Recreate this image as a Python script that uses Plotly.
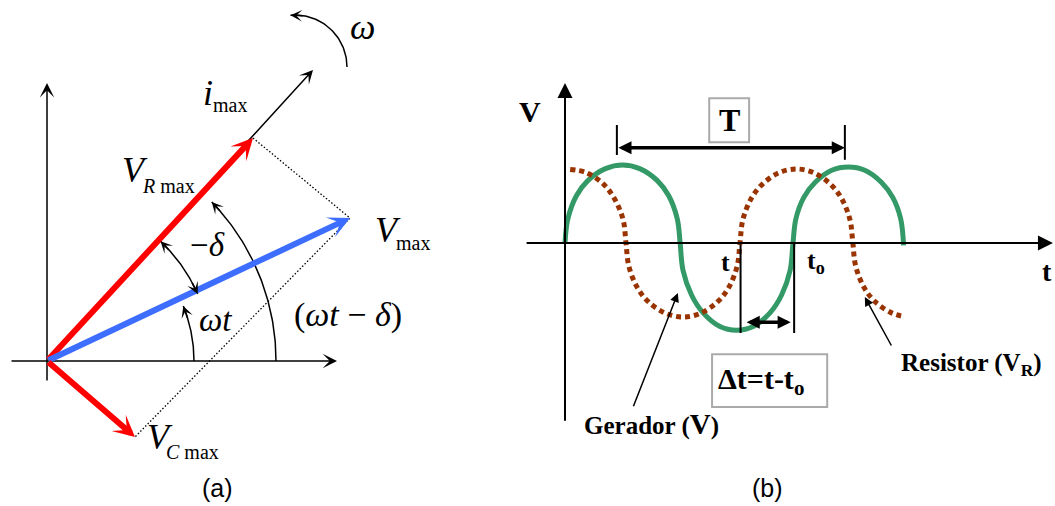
import numpy as np
import plotly.graph_objects as go

# ---------------- Panel (a): phasor diagram (units: 1 = 100 px) ----------------
phasor_names = ["V_R", "i", "V", "V_C"]
phasor_x = [2.06, 2.66, 3.03, 0.88]
phasor_y = [2.23, 2.91, 1.43, -0.76]
axis_a_h = [-0.37, 2.90]      # horizontal axis extent
axis_a_v = [-0.21, 2.78]      # vertical axis extent

# arcs: (center x, center y, radius, start deg, end deg)
arc_wt = [0.0, 0.0, 1.47, 0.0, 22.0]
arc_delta = [0.0, 0.0, 1.65, 24.0, 46.5]
arc_wtd = [0.0, 0.0, 2.29, 0.0, 44.0]
arc_omega = [2.48, 2.94, 0.52, 0.0, 95.0]

# ---------------- Panel (b): waveforms (t: 1 = quarter period, V: 1 = amplitude) ----------------
green_t = [0, 0.05, 0.20, 0.40, 0.71, 1.01, 1.31, 1.62, 1.82, 1.97, 2.02,
           2.07, 2.22, 2.42, 2.71, 3.01, 3.31, 3.60, 3.80, 3.95, 4.00,
           4.05, 4.19, 4.39, 4.68, 4.97, 5.26, 5.55, 5.75, 5.89, 5.94]
green_v = [0, 0.30, 0.59, 0.78, 0.93, 0.975, 0.93, 0.78, 0.59, 0.30, 0,
           -0.34, -0.65, -0.87, -1.04, -1.09, -1.04, -0.87, -0.65, -0.34, 0,
           0.30, 0.57, 0.76, 0.91, 0.95, 0.91, 0.76, 0.57, 0.30, -0.03]
red_t = [0.09, 0.37, 0.67, 0.87, 1.02, 1.07,
         1.12, 1.27, 1.47, 1.77, 2.07, 2.37, 2.67, 2.87, 3.02, 3.07,
         3.12, 3.27, 3.47, 3.76, 4.06, 4.36, 4.65, 4.85, 5.00, 5.05,
         5.10, 5.25, 5.45, 5.75, 5.95]
red_v = [0.92, 0.88, 0.74, 0.55, 0.29, 0,
         -0.29, -0.56, -0.74, -0.88, -0.925, -0.88, -0.74, -0.56, -0.29, 0,
         0.29, 0.56, 0.74, 0.88, 0.925, 0.88, 0.74, 0.56, 0.29, 0,
         -0.29, -0.56, -0.74, -0.88, -0.92]
axis_b_t = [-0.70, 8.56]
axis_b_v = [-2.24, 2.00]
period_start, period_end, period_level = 0.91, 4.91, 1.19
t_mark, t0_mark, mark_bottom = 3.08, 4.02, -1.125
dt_start, dt_end, dt_level = 3.16, 3.96, -0.99

RED = "#FF0000"
BLUE = "#3D6EFF"
GREEN = "#339966"
BROWN = "#993300"
SERIF = "Liberation Serif"
SANS = "Liberation Sans"

fig = go.Figure()

# pixel mapping of the two coordinate systems
W, H = 1055, 506
oa_px, oa_py, sa = 47, 361, 100.0
ob_px, ob_py, sbx, sby = 565, 243, 57.0, 80.0

def arc_pts(a):
    ang = np.radians(np.linspace(a[3], a[4], 60))
    return a[0] + a[2] * np.cos(ang), a[1] + a[2] * np.sin(ang)

# dotted construction lines
iR, iV, iC = 0, 2, 3
fig.add_trace(go.Scatter(x=[phasor_x[iR], phasor_x[iV], phasor_x[iC]],
                         y=[phasor_y[iR], phasor_y[iV], phasor_y[iC]],
                         mode="lines", line=dict(color="black", width=1.3, dash="1.5px,2px"),
                         hoverinfo="skip"))
# arcs
for a in [arc_wt, arc_delta, arc_wtd, arc_omega]:
    ax_, ay_ = arc_pts(a)
    fig.add_trace(go.Scatter(x=ax_, y=ay_, mode="lines",
                             line=dict(color="black", width=1.5), hoverinfo="skip"))

# waveforms
fig.add_trace(go.Scatter(x=green_t, y=green_v, xaxis="x2", yaxis="y2", mode="lines",
                         line=dict(color=GREEN, width=5, shape="spline", smoothing=1.0),
                         hoverinfo="skip"))
fig.add_trace(go.Scatter(x=red_t, y=red_v, xaxis="x2", yaxis="y2", mode="lines",
                         line=dict(color=BROWN, width=5, shape="spline", smoothing=1.0,
                                   dash="5px,4px"),
                         hoverinfo="skip"))
# marker lines t, t0 and period ticks
for x0, y0, x1, y1 in [(t_mark, -0.02, t_mark, mark_bottom),
                       (t0_mark, 0, t0_mark, mark_bottom),
                       (period_start, 1.475, period_start, 1.10),
                       (period_end, 1.475, period_end, 1.04)]:
    fig.add_trace(go.Scatter(x=[x0, x1], y=[y0, y1], xaxis="x2", yaxis="y2", mode="lines",
                             line=dict(color="black", width=2), hoverinfo="skip"))

ann = []

def arrow(x0, y0, x1, y1, color, width, head, size, ref=("x", "y"), side="end"):
    ann.append(dict(x=x1, y=y1, ax=x0, ay=y0, xref=ref[0], yref=ref[1],
                    axref=ref[0], ayref=ref[1], text="", showarrow=True,
                    arrowhead=head, startarrowhead=head, arrowsize=size, startarrowsize=size,
                    arrowwidth=width, arrowcolor=color, arrowside=side, standoff=0,
                    startstandoff=0))

def label(x, y, text, size, family=SERIF, ref=("x", "y"), color="black", xanchor="center"):
    ann.append(dict(x=x, y=y, xref=ref[0], yref=ref[1], text=text, showarrow=False,
                    font=dict(family=family, size=size, color=color), xanchor=xanchor,
                    yanchor="middle"))

# panel (a) axes
arrow(axis_a_h[0], 0, axis_a_h[1], 0, "black", 1.5, 3, 1.6)
arrow(0, axis_a_v[0], 0, axis_a_v[1], "black", 1.5, 3, 1.6)
# phasors
arrow(0, 0, phasor_x[1], phasor_y[1], "black", 1.5, 3, 1.5)
arrow(0, 0, phasor_x[0], phasor_y[0], RED, 6, 3, 0.6)
arrow(0, 0, phasor_x[2], phasor_y[2], BLUE, 6, 3, 0.6)
arrow(0, 0, phasor_x[3], phasor_y[3], RED, 6, 3, 0.6)

# arc arrowheads (short tangent segments at arc ends, ~0.14 units long)
def arc_head(a, at_end=True):
    d = a[4] if at_end else a[3]
    step = np.degrees(0.14 / a[2])
    d0 = d - step if at_end else d + step
    r = a[2]
    arrow(a[0] + r * np.cos(np.radians(d0)), a[1] + r * np.sin(np.radians(d0)),
          a[0] + r * np.cos(np.radians(d)), a[1] + r * np.sin(np.radians(d)),
          "black", 1.5, 3, 1.3)

arc_head(arc_wt)
arc_head(arc_delta, True)
arc_head(arc_delta, False)
arc_head(arc_wtd)
arc_head(arc_omega)

# panel (a) labels
label(3.15, 3.34, "<i>ω</i>", 36)
label(1.61, 2.68, "<i>i</i>", 36)
label(1.83, 2.56, "max", 20)
label(0.88, 1.91, "<i>V</i>", 36)
label(1.21, 1.75, "<i>R</i> max", 20)
label(3.41, 1.31, "<i>V</i>", 36)
label(3.66, 1.18, "max", 20)
label(1.60, 1.16, "−<i>δ</i>", 33)
label(1.68, 0.41, "<i>ωt</i>", 33)
label(3.01, 0.46, "(<i>ωt</i> − <i>δ</i>)", 34)
label(1.13, -0.76, "<i>V</i>", 36)
label(1.45, -0.91, "<i>C</i> max", 20)
label(1.70, -1.27, "(a)", 25, SANS)

# panel (b) arrows
B = ("x2", "y2")
arrow(axis_b_t[0], 0, axis_b_t[1], 0, "black", 2, 2, 1.5, B)
arrow(0, axis_b_v[0], 0, axis_b_v[1], "black", 2, 2, 1.5, B)
arrow(period_start, period_level, period_end, period_level, "black", 3.5, 2, 0.75, B, "end+start")
arrow(dt_start, dt_level, dt_end, dt_level, "black", 3.5, 2, 0.75, B, "end+start")
arrow(1.19, -2.06, 1.98, -0.625, "black", 1.5, 2, 1.2, B)
arrow(5.74, -1.30, 5.26, -0.675, "black", 1.5, 2, 1.2, B)

# panel (b) labels
label(-0.61, 1.64, "<b>V</b>", 30, ref=B)
label(2.88, 1.54, "<b>T</b>", 32, ref=B)
label(2.81, -0.24, "<b>t</b>", 26, ref=B)
label(4.40, -0.24, "<b>t<sub>o</sub></b>", 26, ref=B)
label(8.46, -0.36, "<b>t</b>", 28, ref=B)
label(3.44, -1.73, "<b>Δt=t-t<sub>o</sub></b>", 30, ref=B)
label(1.51, -2.26, "<b>Gerador (<span style='font-size:29px'>V</span>)</b>", 25, ref=B)
label(7.14, -1.52, "<b>Resistor (V<sub>R</sub>)</b>", 25, ref=B)
label(3.56, -3.06, "(b)", 25, SANS, ref=B)

shapes = [
    dict(type="rect", xref="x2", yref="y2", x0=2.53, x1=3.23, y0=1.26, y1=1.81,
         line=dict(color="#AAAAAA", width=2)),
    dict(type="rect", xref="x2", yref="y2", x0=2.58, x1=4.60, y0=-2.05, y1=-1.39,
         line=dict(color="#AAAAAA", width=2)),
]

fig.update_layout(
    width=W, height=H, margin=dict(l=0, r=0, t=0, b=0),
    paper_bgcolor="white", plot_bgcolor="white", showlegend=False,
    xaxis=dict(range=[-oa_px / sa, (W - oa_px) / sa], domain=[0, 1], visible=False, anchor="y"),
    yaxis=dict(range=[(oa_py - H) / sa, oa_py / sa], domain=[0, 1], visible=False, anchor="x"),
    xaxis2=dict(range=[-ob_px / sbx, (W - ob_px) / sbx], domain=[0, 1], visible=False,
                overlaying="x", anchor="y2"),
    yaxis2=dict(range=[(ob_py - H) / sby, ob_py / sby], domain=[0, 1], visible=False,
                overlaying="y", anchor="x2"),
    annotations=ann, shapes=shapes,
)

fig.write_html("out.html", config={"displayModeBar": False},
               post_script="document.body.style.margin='0';document.body.style.overflow='hidden';")
